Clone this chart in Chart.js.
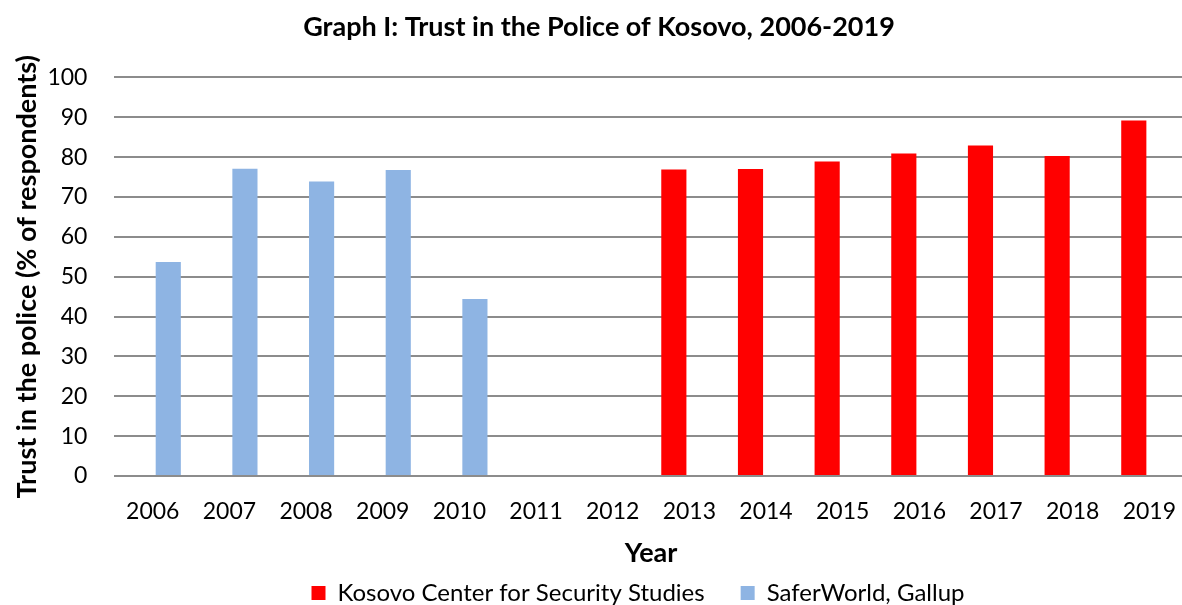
<!DOCTYPE html>
<html>
<head>
<meta charset="utf-8">
<script src="https://cdn.jsdelivr.net/npm/chart.js@4"></script>
<style>
  html, body { margin: 0; padding: 0; background: #fff; overflow: hidden; }
  #trustChart { position: absolute; left: 0; top: 0; }
</style>
</head>
<body>
<canvas id="trustChart" width="1198" height="615"></canvas>
<script>
// Years on the x axis
const years = ['2006', '2007', '2008', '2009', '2010', '2011', '2012',
               '2013', '2014', '2015', '2016', '2017', '2018', '2019'];

// Kosovo Center for Security Studies (red)
const kcssValues = [null, null, null, null, null, null, null,
                    76.9, 77.0, 78.9, 80.9, 82.9, 80.3, 89.2];

// SaferWorld, Gallup (blue)
const saferworldValues = [53.7, 77.1, 73.9, 76.8, 44.4, null, null,
                          null, null, null, null, null, null, null];

const yTicks = [0, 10, 20, 30, 40, 50, 60, 70, 80, 90, 100];

const fontFamily = 'Lato, "Open Sans", sans-serif';

// the legend in the original sits a bit right of the page centre
const legendShift = {
    id: 'legendShift',
    afterLayout: function (chart) {
        chart.legend.left += 39;
        chart.legend.right += 39;
    }
};

document.addEventListener('DOMContentLoaded', function () {
    createChart();
});

function createChart() {
    const ctx = document.getElementById('trustChart').getContext('2d');
    new Chart(ctx, {
        type: 'bar',
        data: {
            labels: years,
            datasets: [
                {
                    label: 'Kosovo Center for Security Studies',
                    data: kcssValues,
                    backgroundColor: '#FF0000'
                },
                {
                    label: 'SaferWorld, Gallup',
                    data: saferworldValues,
                    backgroundColor: '#8EB4E3'
                }
            ]
        },
        plugins: [legendShift],
        options: {
            responsive: false,
            animation: false,
            categoryPercentage: 0.81,
            barPercentage: 0.81,
            layout: {
                padding: 0
            },
            plugins: {
                title: {
                    display: true,
                    text: 'Graph I: Trust in the Police of Kosovo, 2006-2019',
                    color: '#000',
                    font: { family: fontFamily, size: 27, weight: 'bold' },
                    padding: { top: 11, bottom: 34 }
                },
                legend: {
                    position: 'bottom',
                    labels: {
                        color: '#000',
                        font: { family: fontFamily, size: 24 },
                        boxWidth: 14,
                        boxHeight: 14,
                        padding: 36
                    }
                },
                tooltip: { enabled: false }
            },
            scales: {
                x: {
                    grid: { display: false, drawTicks: false },
                    border: { display: false },
                    ticks: {
                        color: '#000',
                        font: { family: fontFamily, size: 23 },
                        padding: 22,
                        maxRotation: 0,
                        autoSkip: false
                    },
                    title: {
                        display: true,
                        text: 'Year',
                        color: '#000',
                        font: { family: fontFamily, size: 27, weight: 'bold' },
                        padding: { top: -11, bottom: -24 }
                    }
                },
                y: {
                    min: 0,
                    max: 100,
                    afterBuildTicks: function (axis) {
                        axis.ticks = yTicks.map(v => ({ value: v }));
                    },
                    grid: { color: '#8c8c8c', lineWidth: 2, drawTicks: false },
                    border: { display: false },
                    ticks: {
                        color: '#000',
                        font: { family: fontFamily, size: 23 },
                        padding: 27
                    },
                    title: {
                        display: true,
                        text: 'Trust in the police (% of respondents)',
                        color: '#000',
                        font: { family: fontFamily, size: 27, weight: 'bold' },
                        padding: { top: 11, bottom: -23 }
                    }
                }
            }
        }
    });
}
</script>
</body>
</html>
